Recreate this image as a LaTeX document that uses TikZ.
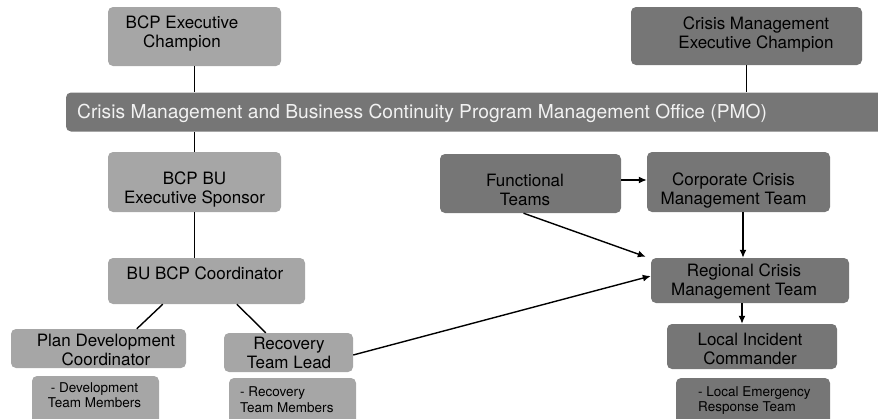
\documentclass[tikz,border=0pt]{standalone}
\usepackage{fontspec}
\setmainfont{TeX Gyre Heros}
\usetikzlibrary{arrows.meta}
\definecolor{boxlight}{HTML}{A6A6A6}
\definecolor{boxdark}{HTML}{767676}
\definecolor{barfont}{HTML}{F2F2F2}
\tikzset{
  box/.style={rounded corners=5pt, inner sep=0pt, minimum width=#1},
  light/.style={fill=boxlight},
  dark/.style={fill=boxdark},
  txt/.style={inner sep=0pt, align=center, font=\fontsize{17}{19}\selectfont},
  smalltxt/.style={inner sep=0pt, font=\fontsize{13.5}{15.5}\selectfont},
  link/.style={line width=1.4pt},
  arr/.style={line width=1.4pt, -{Latex[length=8pt,width=7pt]}}
}
\begin{document}
\begin{tikzpicture}[x=1pt,y=-1pt]
\useasboundingbox (0,0) rectangle (878,418);

% program office bar running across the page
\node[box=820, dark, minimum height=39] (pmo) at (476,112) {};
\node[anchor=west, inner sep=0pt, text=barfont, font=\fontsize{19.2}{22}\selectfont] (pmot) at (77,113)
  {Crisis Management and Business Continuity Program Management Office (PMO)};

% executive champions
\node[box=173, light, minimum height=59] (bcpchamp) at (194.5,36.5) {};
\node[txt] (bcpchampt) at (182,34) {BCP Executive\\Champion};
\node[box=231, dark, minimum height=58] (cmchamp) at (746.5,36) {};
\node[txt] (cmchampt) at (756,34.5) {Crisis Management\\Executive Champion};

% business continuity branch
\node[box=173, light, minimum height=60] (bcpbu) at (194.5,182) {};
\node[txt] (bcpbut) at (194.5,189.5) {BCP BU\\Executive Sponsor};
\node[box=197, light, minimum height=46] (bucoord) at (206.5,281) {};
\node[txt] (bucoordt) at (205,273.5) {BU BCP Coordinator};
\node[box=175, light, minimum height=39] (plandev) at (98.5,348.5) {};
\node[txt] (plandevt) at (106,350) {Plan Development\\Coordinator};
\node[box=129, light, minimum height=39] (reclead) at (288.5,352.5) {};
\node[txt] (recleadt) at (289,353) {Recovery\\Team Lead};
\node[box=127, light, minimum height=50] (devmem) at (95.5,401) {};
\node[smalltxt, align=center] (devmemt) at (94.5,395) {- Development\\Team Members};
\node[box=127, light, minimum height=50] (recmem) at (292.5,403) {};
\node[smalltxt, align=left, anchor=west] (recmemt) at (240,399.5) {- Recovery\\Team Members};

% crisis management branch
\node[box=181, dark, minimum height=59] (functional) at (530.5,183.5) {};
\node[txt] (functionalt) at (525,190) {Functional\\Teams};
\node[box=183, dark, minimum height=60] (corporate) at (738.5,182) {};
\node[txt] (corporatet) at (733.5,190) {Corporate Crisis\\Management Team};
\node[box=198, dark, minimum height=45] (regional) at (750,280.5) {};
\node[txt] (regionalt) at (744,281.5) {Regional Crisis\\Management Team};
\node[box=170, dark, minimum height=45] (local) at (752,346.5) {};
\node[txt] (localt) at (750,348.5) {Local Incident\\Commander};
\node[box=154, dark, minimum height=50] (localemg) at (753,403) {};
\node[smalltxt, align=left, anchor=west] (localemgt) at (698,400.5) {- Local Emergency\\Response Team};

% reporting lines
\draw[link] (bcpchamp.south) -- (bcpchamp.south |- pmo.north);
\draw[link] (cmchamp.south) -- (cmchamp.south |- pmo.north);
\draw[link] (bcpbu.north) -- (bcpbu.north |- pmo.south);
\draw[link] (bcpbu.south) -- (bcpbu.south |- bucoord.north);
\draw[link] ([xshift=55pt]bucoord.south west) -- ([xshift=126pt]plandev.north west);
\draw[link] ([xshift=129pt]bucoord.south west) -- ([xshift=42pt]reclead.north west);

\coordinate (fe) at ([yshift=3.5pt]functional.east);
\draw[arr] (fe) -- (fe -| corporate.west);
\coordinate (cs) at ([xshift=4.5pt]corporate.south);
\draw[arr] (cs) -- (cs |- regional.north);
\draw[arr] ([xshift=-7pt]functional.south) -- ([xshift=-5pt,yshift=1pt]regional.north west);
\draw[arr] ([yshift=-2.5pt]reclead.east) -- ([yshift=4.5pt]regional.west);
\coordinate (rs) at ([xshift=-8pt]regional.south);
\draw[arr] (rs) -- (rs |- local.north);
\end{tikzpicture}
\end{document}
